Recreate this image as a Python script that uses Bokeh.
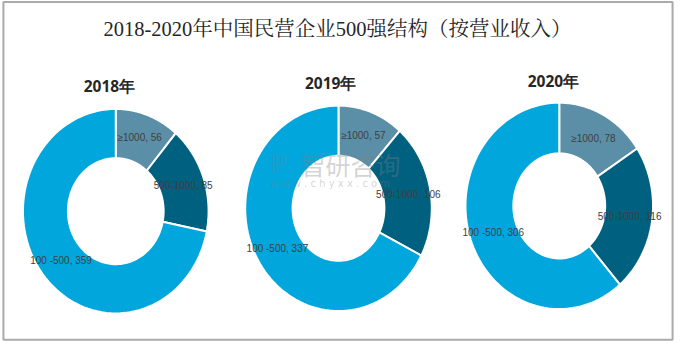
import numpy as np
from bokeh.plotting import figure
from bokeh.models import Range1d
from bokeh.core.properties import value
from bokeh.embed import file_html
from bokeh.resources import INLINE

# ---- data ----
years = ["2018年", "2019年", "2020年"]
categories = ["≥1000", "500-1000", "100 -500"]
vals_2018 = [56, 85, 359]
vals_2019 = [57, 106, 337]
vals_2020 = [78, 116, 306]
title_text = "2018-2020年中国民营企业500强结构（按营业收入）"

colors = ["#5b8fa7", "#00607f", "#00a6dc"]

# ---- layout (reference pixel coordinates) ----
centers = [(118, 220.5), (346, 217.5), (572, 215)]
outer_r = [(95, 107), (95.5, 107.5), (96, 108)]
inner_r = [(49, 55.5), (47, 55), (47, 55)]
year_pos = [(111.5, 89), (338, 86), (566, 84)]
label_pos = [
    [(142.5, 143), (187, 194), (62, 272)],
    [(371.5, 141), (417.5, 203), (283.5, 260)],
    [(607, 144), (644, 226), (504.5, 243)],
]

W, H = 675, 343
p = figure(width=W, height=H, output_backend="svg", toolbar_location=None,
           x_range=Range1d(0, 691), y_range=Range1d(359, 0),
           min_border=0, outline_line_color=None)
p.axis.visible = False
p.grid.visible = False
p.background_fill_color = "white"
p.border_fill_color = "white"

# chart frame
p.quad(left=[3], right=[688], top=[1.5], bottom=[355], fill_color=None,
       line_color="#aaaaaa", line_width=2)

all_vals = [vals_2018, vals_2019, vals_2020]
xs, ys, fills = [], [], []
lx, ly, ltxt = [], [], []
for i, vals in enumerate(all_vals):
    cx, cy = centers[i]
    rxo, ryo = outer_r[i]
    rxi, ryi = inner_r[i]
    total = float(sum(vals))
    start = 0.0
    for j, v in enumerate(vals):
        end = start + v / total * 2 * np.pi
        t = np.linspace(start, end, 90)
        ox = cx + rxo * np.sin(t)
        oy = cy - ryo * np.cos(t)
        ix = cx + rxi * np.sin(t[::-1])
        iy = cy - ryi * np.cos(t[::-1])
        xs.append(list(np.concatenate([ox, ix])))
        ys.append(list(np.concatenate([oy, iy])))
        fills.append(colors[j])
        start = end
        lx.append(label_pos[i][j][0])
        ly.append(label_pos[i][j][1])
        ltxt.append(f"{categories[j]}, {v}")

p.patches(xs=xs, ys=ys, fill_color=fills, line_color="white", line_width=2)

# watermark
p.text(x=[307], y=[171], text=["智研咨询"], text_font=value("Noto Sans CJK SC"),
       text_font_size="25px", text_color="#808080", text_alpha=0.35,
       text_align="left", text_baseline="middle")
p.text(x=[276], y=[192], text=["w w w . c h y x x . c o m"], text_font=value("DejaVu Sans"),
       text_font_size="10px", text_color="#808080", text_alpha=0.35,
       text_align="left", text_baseline="middle")
p.text(x=[276], y=[171], text=["ℙ"], text_font=value("DejaVu Sans"),
       text_font_size="24px", text_color="#808080", text_alpha=0.3,
       text_align="left", text_baseline="middle")

# slice labels
p.text(x=lx, y=ly, text=ltxt, text_font=value("Liberation Sans"),
       text_font_size="10px", text_color="#404040",
       text_align="center", text_baseline="middle")

# year titles
p.text(x=[q[0] for q in year_pos], y=[q[1] for q in year_pos], text=years,
       text_font=value("Open Sans"), text_font_style="bold",
       text_font_size="15.5px", text_color="#262626",
       text_align="center", text_baseline="middle")

# main title
p.text(x=[345], y=[30], text=[title_text],
       text_font=value("Liberation Serif, Noto Serif CJK SC, Noto Sans CJK SC"),
       text_font_size="20.5px", text_color="#262626",
       text_align="center", text_baseline="middle")

open("out.html", "w").write(file_html(p, INLINE))
